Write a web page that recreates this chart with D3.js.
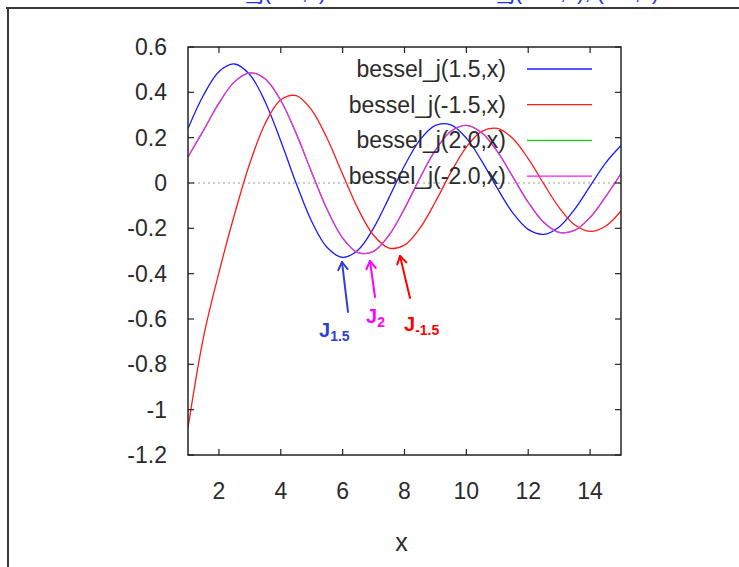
<!DOCTYPE html>
<html>
<head>
<meta charset="utf-8">
<script src="https://cdn.jsdelivr.net/npm/d3@7"></script>
<style>
  html, body { margin: 0; padding: 0; background: #fff; }
  svg { display: block; }
  text { font-family: "Liberation Sans", Arial, sans-serif; }
</style>
</head>
<body>
<script>
// ---- data ----
const xValues = [1,1.5,2,2.5,3,3.5,4,4.5,5,5.5,6,6.5,7,7.5,8,8.5,9,9.5,10,10.5,11,11.5,12,12.5,13,13.5,14,14.5,15];
const besselJ15  = [0.2403,0.3871,0.4913,0.5251,0.4777,0.3566,0.1853,-0.0024,-0.1697,-0.2847,-0.3279,-0.2953,-0.1991,-0.0646,0.0759,0.1905,0.2545,0.2561,0.1980,0.0965,-0.0229,-0.1316,-0.2047,-0.2264,-0.1937,-0.1163,-0.0141,0.0879,0.1654];
const besselJm15 = [-1.08,-0.6806,-0.3956,-0.1403,0.0870,0.2637,0.3671,0.3853,0.3219,0.1962,0.0389,-0.1143,-0.2306,-0.2868,-0.2740,-0.1991,-0.0827,0.0466,0.1584,0.2278,0.2405,0.1961,0.1074,-0.0030,-0.1084,-0.1841,-0.2133,-0.1908,-0.1235];
const besselJ2   = [0.1149,0.2321,0.3528,0.4461,0.4861,0.4586,0.3641,0.2178,0.0466,-0.1173,-0.2429,-0.3074,-0.3014,-0.2303,-0.1130,0.0223,0.1448,0.2279,0.2546,0.2216,0.1391,0.0279,-0.0849,-0.1733,-0.2177,-0.2094,-0.1520,-0.0611,0.0416];
const besselJm2  = [0.1149,0.2321,0.3528,0.4461,0.4861,0.4586,0.3641,0.2178,0.0466,-0.1173,-0.2429,-0.3074,-0.3014,-0.2303,-0.1130,0.0223,0.1448,0.2279,0.2546,0.2216,0.1391,0.0279,-0.0849,-0.1733,-0.2177,-0.2094,-0.1520,-0.0611,0.0416];
const seriesNames  = ["bessel_j(1.5,x)","bessel_j(-1.5,x)","bessel_j(2.0,x)","bessel_j(-2.0,x)"];
const seriesColors = ["#1a1aff","#ff1a1a","#00dd00","#ff1aff"];
const xTicks = [2,4,6,8,10,12,14];
const yTicks = [0.6,0.4,0.2,0,-0.2,-0.4,-0.6,-0.8,-1,-1.2];
const xLabel = "x";
const annotations = [
  {name:"J", sub:"1.5", color:"#2f3fd0"},
  {name:"J", sub:"2",   color:"#ff00ff"},
  {name:"J", sub:"-1.5",color:"#ff0000"}
];

// ---- layout ----
const W = 739, H = 567;
const L = 188, R = 621, T = 47, B = 455;

const svg = d3.select("body").append("svg").attr("width", W).attr("height", H);

// outer frame (screenshot window edge)
svg.append("line").attr("x1",6).attr("x2",W).attr("y1",8).attr("y2",8).attr("stroke","#3a3a3a").attr("stroke-width",2);
svg.append("line").attr("x1",8).attr("x2",8).attr("y1",8).attr("y2",H).attr("stroke","#3a3a3a").attr("stroke-width",2);

// cut-off blue title at the very top (only its lowest parts are visible)
svg.append("text").attr("x",183).attr("y",-1.5).attr("fill","#2233ee").attr("font-size",22).text("bessel_j(1.5,x) and");
svg.append("text").attr("x",434).attr("y",-1.5).attr("fill","#2233ee").attr("font-size",22).text("bessel_j(-1.5,x), (2.0,x)");

const x = d3.scaleLinear().domain([1,15]).range([L,R]);
const y = d3.scaleLinear().domain([-1.2,0.6]).range([B,T]);

// zero line
svg.append("line").attr("x1",x(1)).attr("x2",x(15)).attr("y1",y(0)).attr("y2",y(0))
  .attr("stroke","#9a9a9a").attr("stroke-width",1).attr("stroke-dasharray","2,3");

// curves
svg.append("clipPath").attr("id","clip").append("rect").attr("x",L).attr("y",T).attr("width",R-L).attr("height",B-T);
const allSeries = [besselJ15, besselJm15, besselJ2, besselJm2];
const line = d3.line().x(d=>x(d[0])).y(d=>y(d[1])).curve(d3.curveCatmullRom.alpha(0.5));
allSeries.forEach((vals,i)=>{
  svg.append("path").attr("clip-path","url(#clip)")
    .attr("d", line(xValues.map((xv,j)=>[xv, vals[j]])))
    .attr("fill","none").attr("stroke",seriesColors[i]).attr("stroke-width",1.3);
});

// axes (gnuplot style: inward ticks on all four sides)
const tickLen = 6;
const axColor = "#222";
const gAx = svg.append("g");
gAx.append("rect").attr("x",L).attr("y",T).attr("width",R-L).attr("height",B-T)
  .attr("fill","none").attr("stroke",axColor).attr("stroke-width",1.5);
xTicks.forEach(t=>{
  gAx.append("line").attr("x1",x(t)).attr("x2",x(t)).attr("y1",B).attr("y2",B-tickLen).attr("stroke",axColor).attr("stroke-width",1.2);
  gAx.append("line").attr("x1",x(t)).attr("x2",x(t)).attr("y1",T).attr("y2",T+tickLen).attr("stroke",axColor).attr("stroke-width",1.2);
  gAx.append("text").attr("x",x(t)).attr("y",B+44).attr("text-anchor","middle")
    .attr("font-size",23).attr("fill","#2b2b2b").text(t);
});
yTicks.forEach(t=>{
  gAx.append("line").attr("x1",L).attr("x2",L+tickLen).attr("y1",y(t)).attr("y2",y(t)).attr("stroke",axColor).attr("stroke-width",1.2);
  gAx.append("line").attr("x1",R).attr("x2",R-tickLen).attr("y1",y(t)).attr("y2",y(t)).attr("stroke",axColor).attr("stroke-width",1.2);
  gAx.append("text").attr("x",167).attr("y",y(t)+8).attr("text-anchor","end")
    .attr("font-size",23).attr("fill","#2b2b2b").text(t);
});
svg.append("text").attr("x",x(7.9)).attr("y",551).attr("text-anchor","middle")
  .attr("font-size",25).attr("fill","#2b2b2b").text(xLabel);

// legend
seriesNames.forEach((nm,i)=>{
  const ly = 69 + i*35.7;
  svg.append("text").attr("x",506).attr("y",ly+8).attr("text-anchor","end")
    .attr("font-size",23).attr("fill","#2b2b2b").text(nm);
  svg.append("line").attr("x1",527).attr("x2",592).attr("y1",ly).attr("y2",ly)
    .attr("stroke",seriesColors[i]).attr("stroke-width",1.3);
});

// hand-drawn arrows and labels
const arrows = [
  {from:[348,312], to:[342,262], lab:[319,337]},
  {from:[375,297], to:[370,261], lab:[366,323]},
  {from:[410,298], to:[400,256], lab:[404,331]}
];
annotations.forEach((a,i)=>{
  const ar = arrows[i];
  const g = svg.append("g").attr("stroke",a.color).attr("stroke-width",2).attr("fill","none").attr("stroke-linecap","round");
  g.append("line").attr("x1",ar.from[0]).attr("y1",ar.from[1]).attr("x2",ar.to[0]).attr("y2",ar.to[1]);
  const ang = Math.atan2(ar.to[1]-ar.from[1], ar.to[0]-ar.from[0]);
  [-0.55,0.55].forEach(da=>{
    g.append("line").attr("x1",ar.to[0]).attr("y1",ar.to[1])
      .attr("x2",ar.to[0]-9*Math.cos(ang+da)).attr("y2",ar.to[1]-9*Math.sin(ang+da));
  });
  const t = svg.append("text").attr("x",ar.lab[0]).attr("y",ar.lab[1]).attr("fill",a.color)
    .attr("font-family","'DejaVu Sans', sans-serif").attr("font-size",20).attr("font-weight","bold");
  t.append("tspan").text(a.name);
  t.append("tspan").attr("font-size",14).attr("dy",4).text(a.sub);
});
</script>
</body>
</html>
